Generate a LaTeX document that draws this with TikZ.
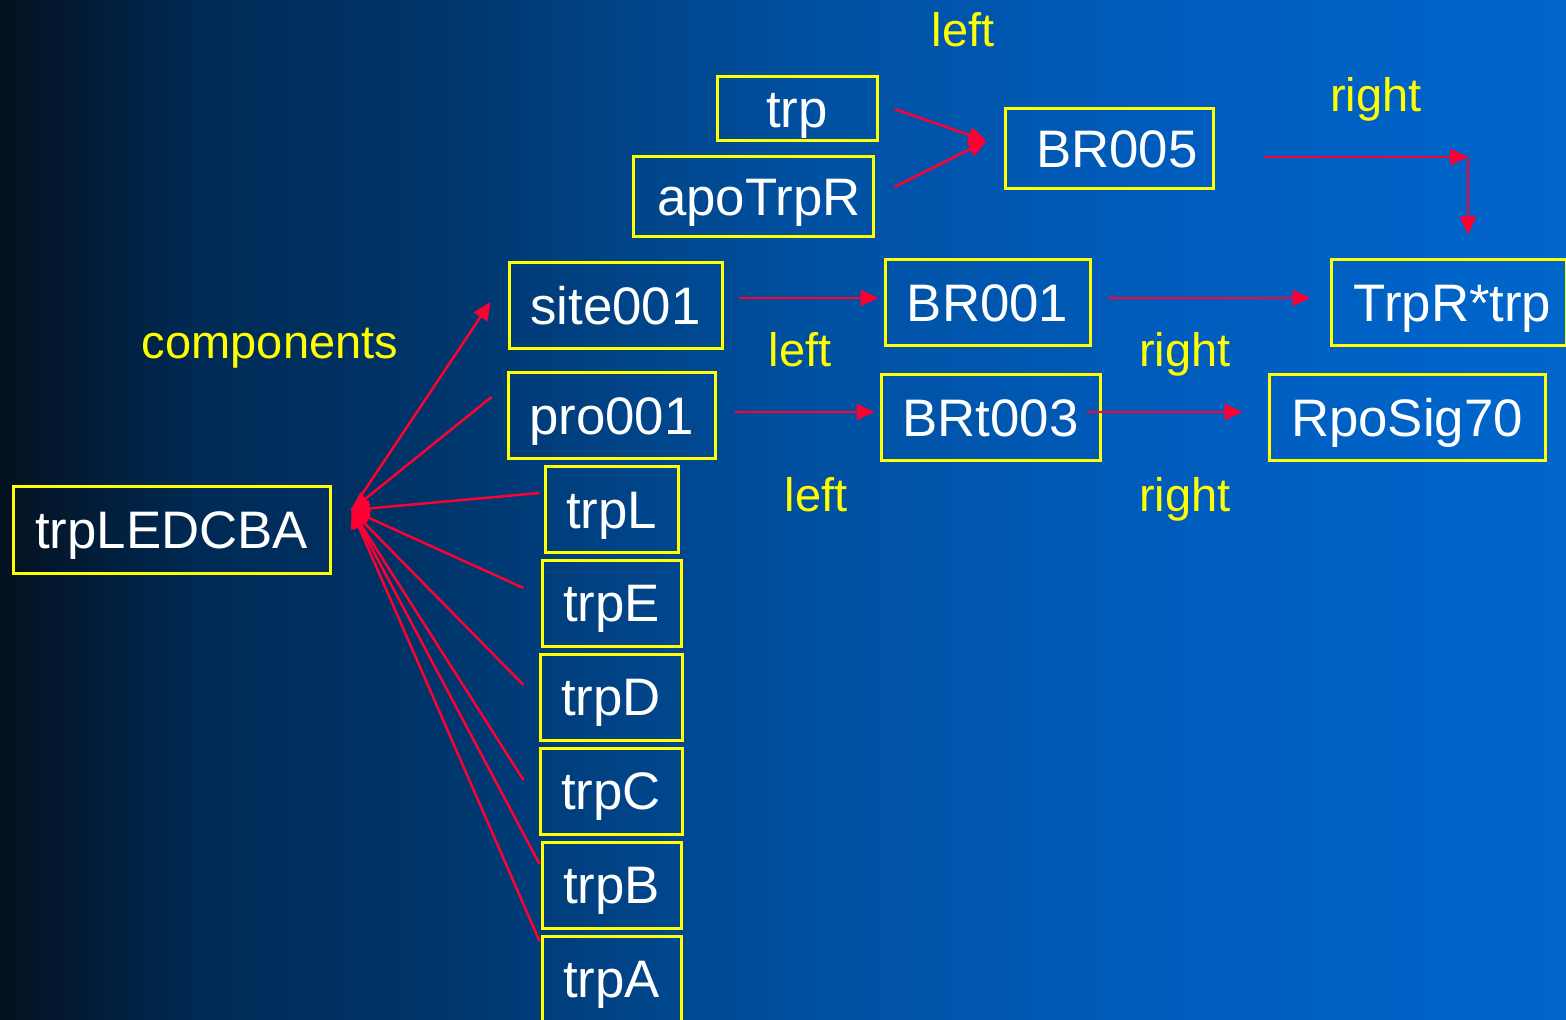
\documentclass[tikz,border=0pt]{standalone}
\usepackage{fontspec}
\setmainfont{Liberation Sans}
\usetikzlibrary{arrows.meta}
\definecolor{bg0}{HTML}{04111F}
\definecolor{bg1}{HTML}{002A55}
\definecolor{bg2}{HTML}{003366}
\definecolor{bg3}{HTML}{0050A0}
\definecolor{bg4}{HTML}{005DBE}
\definecolor{bg5}{HTML}{0066CC}
\definecolor{arrred}{HTML}{FF0033}
\definecolor{boxyel}{HTML}{FFFF00}
\pgfdeclarehorizontalshading{bgshade}{100bp}{color(0bp)=(bg0); color(25bp)=(bg0); color(31.39bp)=(bg1); color(37.77bp)=(bg2); color(50.54bp)=(bg3); color(63.31bp)=(bg4); color(75bp)=(bg5); color(100bp)=(bg5)}
\tikzset{
  box/.style={draw=boxyel, line width=1.5pt, inner sep=0pt, text=white,
    font=\fontsize{26.4pt}{30pt}\selectfont, text height=18.9pt, text depth=0pt},
  lbl/.style={text=boxyel, inner sep=0pt, anchor=base, font=\fontsize{23.5pt}{28pt}\selectfont},
  arr/.style={draw=arrred, line width=1.25pt, -{Triangle[length=9pt,width=8pt]}},
}
\begin{document}
\begin{tikzpicture}[x=0.5pt,y=-0.5pt]
\useasboundingbox (0,0) rectangle (1566,1020);
\clip (0,0) rectangle (1566,1020);
\shade[shading=bgshade] (0,0) rectangle (1566,1020);

% boxes
\node[box, minimum width=80pt, minimum height=32pt] (trp) at (797,109) {trp};
\node[box, minimum width=120pt, minimum height=40pt] (apo) at (753,197) {\hspace*{6pt}apoTrpR};
\node[box, minimum width=104pt, minimum height=40pt] (br5) at (1109,149) {\hspace*{8pt}BR005};
\node[box, minimum width=106.5pt, minimum height=43pt] (site) at (615.5,306) {site001};
\node[box, minimum width=102.5pt, minimum height=43pt] (br1) at (987.5,303) {BR001};
\node[box, minimum width=117.5pt, minimum height=43pt] (trpr) at (1448.5,303) {\hspace*{4pt}TrpR*trp};
\node[box, minimum width=103.5pt, minimum height=43pt] (pro) at (611.5,416) {pro001};
\node[box, minimum width=109.5pt, minimum height=43pt] (brt3) at (990.5,418) {BRt003};
\node[box, minimum width=138pt, minimum height=43pt] (rpo) at (1407,418) {RpoSig70};
\node[box, minimum width=158.5pt, minimum height=43pt] (operon) at (171.5,530) {trpLEDCBA};
\node[box, minimum width=66.5pt, minimum height=42.5pt] (tL) at (611.5,509.5) {trpL};
\node[box, minimum width=69.5pt, minimum height=43pt] (tE) at (611.5,603) {trpE};
\node[box, minimum width=71pt, minimum height=43pt] (tD) at (611,697) {trpD};
\node[box, minimum width=71pt, minimum height=43pt] (tC) at (611,791) {trpC};
\node[box, minimum width=69.5pt, minimum height=43pt] (tB) at (611.5,885) {trpB};
\node[box, minimum width=69.5pt, minimum height=43pt] (tA) at (611.5,979) {trpA};

% labels
\node[lbl] (l1) at (963,47) {left};
\node[lbl] (r1) at (1376,112) {right};
\node[lbl] (comp) at (270,359) {components};
\node[lbl] (l2) at (800,367) {left};
\node[lbl] (r2) at (1185,367) {right};
\node[lbl] (l3) at (816,511) {left};
\node[lbl] (r3) at (1185,511) {right};

% top arrows
\draw[arr] ([shift={(16,0)}]trp.east) -- ([shift={(-17,-8)}]br5.west);
\draw[arr] ([shift={(20,-10)}]apo.east) -- ([shift={(-17,-8)}]br5.west);
\coordinate (c5) at ([shift={(19.5,0)}]trpr.north |- 0,157);
\draw[arr] ([shift={(49,8)}]br5.east) -- (c5);
\draw[arr] (c5) -- ([shift={(19.5,-24)}]trpr.north);
\draw[arr] ([shift={(16,-5)}]br1.east) -- ([shift={(-19,-5)}]trpr.west);
\draw[arr] ([shift={(15,-8)}]site.east) -- ([shift={(-5,-5)}]br1.west);
\draw[arr] ([shift={(18,-4)}]pro.east) -- ([shift={(-5,-6)}]brt3.west);
\draw[arr] ([shift={(-15,-6)}]brt3.east) -- ([shift={(-25,-6)}]rpo.west);

% fan
\coordinate (hub) at ([shift={(20,-20)}]operon.east);
\draw[arr] (hub) -- ([shift={(-17,-4)}]site.west);
\draw[arr] ([shift={(-15,-19)}]pro.west) -- (hub);
\draw[arr] ([shift={(-4,-16.5)}]tL.west) -- (hub);
\draw[arr] ([shift={(-17,-15)}]tE.west) -- (hub);
\draw[arr] ([shift={(-15,-12)}]tD.west) -- (hub);
\draw[arr] ([shift={(-15,-11)}]tC.west) -- (hub);
\draw[arr] ([shift={(-1,-21)}]tB.west) -- (hub);
\draw[arr] ([shift={(-1,-38)}]tA.west) -- (hub);
\end{tikzpicture}
\end{document}
